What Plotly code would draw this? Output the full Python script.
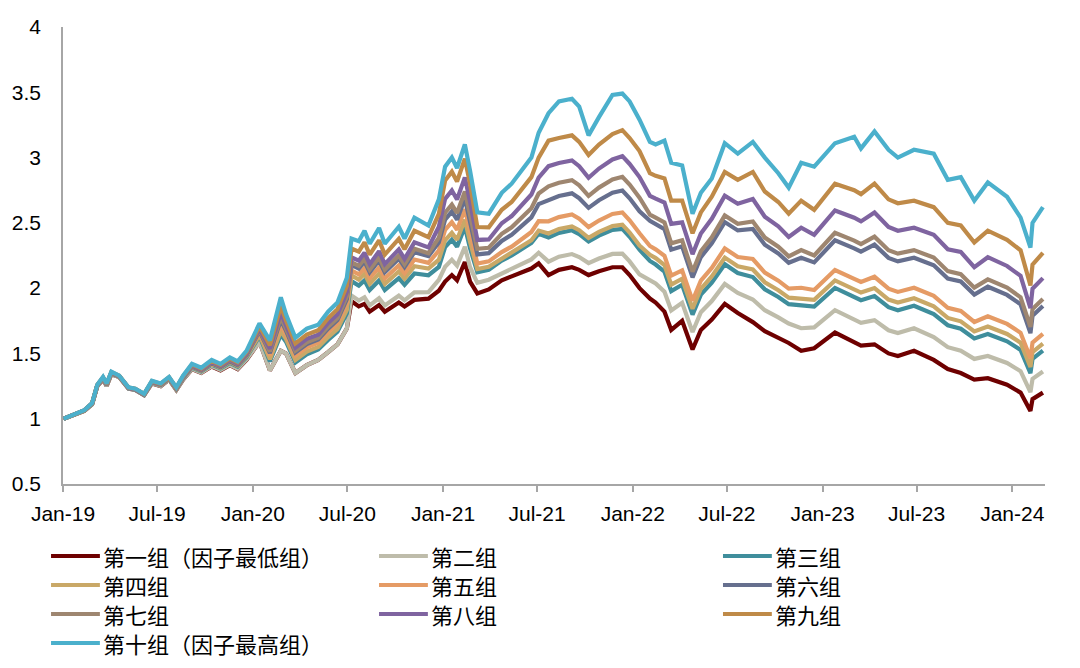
import plotly.graph_objects as go

dates = [
"2019-01-02","2019-01-21","2019-02-11","2019-02-26","2019-03-08","2019-03-19","2019-03-26","2019-04-04","2019-04-19","2019-05-07",
"2019-05-20","2019-06-06","2019-06-21","2019-07-08","2019-07-24","2019-08-07","2019-08-20","2019-09-06","2019-09-24","2019-10-14",
"2019-10-31","2019-11-18","2019-12-03","2019-12-20","2020-01-14","2020-02-03","2020-02-24","2020-03-05","2020-03-23","2020-04-14",
"2020-05-06","2020-05-25","2020-06-12","2020-06-30","2020-07-09","2020-07-23","2020-08-03","2020-08-13","2020-08-31","2020-09-11",
"2020-10-08","2020-10-19","2020-11-07","2020-12-04","2020-12-24","2021-01-05","2021-01-18","2021-01-28","2021-02-12","2021-02-22",
"2021-03-08","2021-03-30","2021-04-24","2021-05-13","2021-06-01","2021-06-20","2021-07-04","2021-07-23","2021-08-12","2021-09-06",
"2021-09-20","2021-10-08","2021-10-28","2021-11-23","2021-12-12","2021-12-26","2022-01-14","2022-02-03","2022-02-14","2022-03-03",
"2022-03-16","2022-04-06","2022-04-26","2022-05-12","2022-06-02","2022-06-27","2022-07-22","2022-08-20","2022-09-12","2022-10-08",
"2022-10-28","2022-11-21","2022-12-16","2023-01-25","2023-03-03","2023-03-16","2023-04-11","2023-05-08","2023-05-26","2023-06-26",
"2023-08-03","2023-08-30","2023-09-24","2023-10-20","2023-11-15","2023-12-22","2024-01-17","2024-02-05","2024-02-09","2024-02-29"]

g1 = [1.00, 1.03, 1.06, 1.11, 1.25, 1.30, 1.25, 1.34, 1.32, 1.23,
      1.22, 1.18, 1.27, 1.25, 1.30, 1.22, 1.30, 1.38, 1.35, 1.40,
      1.37, 1.41, 1.38, 1.45, 1.59, 1.37, 1.52, 1.50, 1.35, 1.41,
      1.45, 1.51, 1.57, 1.69, 1.90, 1.86, 1.88, 1.82, 1.87, 1.82,
      1.89, 1.86, 1.91, 1.92, 1.98, 2.05, 2.10, 2.06, 2.20, 2.05,
      1.96, 1.99, 2.06, 2.09, 2.12, 2.15, 2.19, 2.10, 2.14, 2.16,
      2.14, 2.10, 2.13, 2.16, 2.16, 2.10, 2.00, 1.92, 1.89, 1.82,
      1.68, 1.75, 1.53, 1.68, 1.76, 1.88, 1.81, 1.74, 1.67, 1.62,
      1.58, 1.52, 1.54, 1.66, 1.58, 1.56, 1.57, 1.50, 1.48, 1.52,
      1.45, 1.38, 1.35, 1.30, 1.31, 1.26, 1.20, 1.06, 1.15, 1.20]

g2 = [1.00, 1.03, 1.060, 1.110, 1.250, 1.301, 1.251, 1.341, 1.320, 1.230,
      1.220, 1.180, 1.271, 1.251, 1.301, 1.221, 1.302, 1.382, 1.352, 1.403,
      1.373, 1.413, 1.383, 1.454, 1.590, 1.370, 1.520, 1.500, 1.350, 1.410,
      1.450, 1.510, 1.570, 1.690, 1.943, 1.905, 1.930, 1.867, 1.923, 1.867,
      1.942, 1.907, 1.967, 1.970, 2.064, 2.164, 2.217, 2.172, 2.317, 2.160,
      2.041, 2.065, 2.114, 2.147, 2.183, 2.220, 2.271, 2.203, 2.241, 2.261,
      2.238, 2.192, 2.227, 2.262, 2.265, 2.205, 2.105, 2.064, 2.036, 1.973,
      1.829, 1.888, 1.664, 1.815, 1.901, 2.032, 1.963, 1.913, 1.831, 1.776,
      1.729, 1.693, 1.699, 1.831, 1.756, 1.734, 1.755, 1.677, 1.656, 1.693,
      1.626, 1.548, 1.520, 1.458, 1.480, 1.427, 1.364, 1.204, 1.305, 1.361]

g3 = [1.00, 1.03, 1.062, 1.113, 1.253, 1.306, 1.256, 1.346, 1.323, 1.233,
      1.223, 1.183, 1.276, 1.256, 1.306, 1.226, 1.309, 1.392, 1.362, 1.415,
      1.385, 1.428, 1.398, 1.471, 1.632, 1.439, 1.643, 1.590, 1.431, 1.494,
      1.531, 1.603, 1.666, 1.807, 2.054, 2.020, 2.059, 1.986, 2.059, 1.986,
      2.076, 2.026, 2.112, 2.099, 2.162, 2.314, 2.370, 2.318, 2.470, 2.305,
      2.121, 2.141, 2.211, 2.250, 2.296, 2.346, 2.417, 2.388, 2.423, 2.443,
      2.414, 2.358, 2.402, 2.446, 2.454, 2.394, 2.294, 2.208, 2.181, 2.126,
      1.977, 2.026, 1.797, 1.950, 2.042, 2.183, 2.116, 2.085, 1.991, 1.932,
      1.877, 1.865, 1.858, 2.002, 1.931, 1.908, 1.939, 1.854, 1.831, 1.865,
      1.801, 1.716, 1.689, 1.615, 1.649, 1.593, 1.527, 1.348, 1.459, 1.521]

g4 = [1.00, 1.03, 1.062, 1.114, 1.254, 1.308, 1.258, 1.348, 1.324, 1.234,
      1.224, 1.184, 1.278, 1.258, 1.308, 1.228, 1.312, 1.396, 1.366, 1.420,
      1.390, 1.434, 1.404, 1.478, 1.642, 1.455, 1.672, 1.611, 1.450, 1.514,
      1.550, 1.625, 1.688, 1.834, 2.097, 2.065, 2.110, 2.033, 2.112, 2.033,
      2.128, 2.073, 2.168, 2.150, 2.218, 2.367, 2.424, 2.370, 2.524, 2.356,
      2.146, 2.164, 2.227, 2.267, 2.315, 2.367, 2.441, 2.419, 2.453, 2.473,
      2.444, 2.385, 2.431, 2.476, 2.486, 2.426, 2.326, 2.256, 2.230, 2.177,
      2.027, 2.072, 1.842, 1.995, 2.089, 2.234, 2.167, 2.143, 2.045, 1.984,
      1.927, 1.923, 1.911, 2.059, 1.990, 1.966, 2.001, 1.913, 1.890, 1.923,
      1.860, 1.772, 1.746, 1.668, 1.706, 1.649, 1.582, 1.396, 1.511, 1.575]

g5 = [1.00, 1.03, 1.063, 1.116, 1.256, 1.311, 1.261, 1.351, 1.326, 1.236,
      1.226, 1.186, 1.281, 1.261, 1.311, 1.231, 1.317, 1.402, 1.372, 1.428,
      1.398, 1.443, 1.413, 1.489, 1.659, 1.483, 1.721, 1.647, 1.482, 1.547,
      1.582, 1.662, 1.727, 1.881, 2.135, 2.105, 2.154, 2.075, 2.159, 2.075,
      2.174, 2.115, 2.219, 2.194, 2.288, 2.446, 2.505, 2.447, 2.605, 2.432,
      2.189, 2.205, 2.276, 2.318, 2.372, 2.430, 2.514, 2.512, 2.544, 2.564,
      2.532, 2.468, 2.518, 2.568, 2.580, 2.520, 2.420, 2.323, 2.297, 2.248,
      2.096, 2.136, 1.904, 2.058, 2.155, 2.304, 2.238, 2.223, 2.119, 2.057,
      1.996, 2.003, 1.985, 2.139, 2.071, 2.047, 2.087, 1.996, 1.971, 2.003,
      1.941, 1.850, 1.825, 1.741, 1.785, 1.726, 1.658, 1.463, 1.583, 1.649]

g6 = [1.00, 1.03, 1.063, 1.115, 1.255, 1.310, 1.260, 1.350, 1.325, 1.235,
      1.225, 1.185, 1.280, 1.260, 1.310, 1.230, 1.315, 1.400, 1.370, 1.425,
      1.395, 1.440, 1.410, 1.485, 1.671, 1.503, 1.758, 1.674, 1.507, 1.572,
      1.607, 1.690, 1.756, 1.916, 2.178, 2.150, 2.205, 2.122, 2.212, 2.122,
      2.226, 2.162, 2.275, 2.245, 2.351, 2.525, 2.586, 2.524, 2.686, 2.509,
      2.258, 2.268, 2.362, 2.409, 2.473, 2.542, 2.644, 2.677, 2.706, 2.726,
      2.689, 2.615, 2.673, 2.731, 2.748, 2.688, 2.588, 2.515, 2.491, 2.452,
      2.294, 2.320, 2.082, 2.238, 2.343, 2.506, 2.442, 2.453, 2.333, 2.265,
      2.194, 2.233, 2.197, 2.367, 2.305, 2.279, 2.333, 2.232, 2.205, 2.233,
      2.175, 2.074, 2.051, 1.951, 2.011, 1.948, 1.876, 1.655, 1.789, 1.863]

g7 = [1.00, 1.03, 1.063, 1.116, 1.256, 1.312, 1.262, 1.352, 1.326, 1.236,
      1.226, 1.186, 1.282, 1.262, 1.312, 1.232, 1.318, 1.404, 1.374, 1.430,
      1.400, 1.446, 1.416, 1.492, 1.678, 1.515, 1.778, 1.689, 1.520, 1.586,
      1.620, 1.705, 1.772, 1.936, 2.198, 2.170, 2.227, 2.142, 2.236, 2.142,
      2.250, 2.182, 2.301, 2.267, 2.386, 2.578, 2.640, 2.576, 2.740, 2.560,
      2.301, 2.309, 2.416, 2.466, 2.536, 2.612, 2.725, 2.780, 2.807, 2.827,
      2.787, 2.707, 2.770, 2.833, 2.853, 2.793, 2.693, 2.563, 2.540, 2.503,
      2.343, 2.366, 2.126, 2.283, 2.390, 2.557, 2.493, 2.511, 2.387, 2.317,
      2.243, 2.291, 2.250, 2.424, 2.364, 2.337, 2.394, 2.291, 2.264, 2.291,
      2.234, 2.130, 2.107, 2.004, 2.067, 2.004, 1.930, 1.703, 1.840, 1.917]

g8 = [1.00, 1.03, 1.064, 1.117, 1.257, 1.314, 1.264, 1.354, 1.327, 1.237,
      1.227, 1.187, 1.284, 1.264, 1.314, 1.234, 1.321, 1.408, 1.378, 1.435,
      1.405, 1.452, 1.422, 1.499, 1.691, 1.536, 1.815, 1.716, 1.544, 1.612,
      1.644, 1.733, 1.800, 1.971, 2.236, 2.210, 2.272, 2.184, 2.283, 2.184,
      2.296, 2.224, 2.351, 2.312, 2.470, 2.684, 2.748, 2.679, 2.848, 2.662,
      2.369, 2.373, 2.497, 2.552, 2.630, 2.717, 2.846, 2.934, 2.958, 2.978,
      2.934, 2.845, 2.916, 2.986, 3.011, 2.951, 2.851, 2.707, 2.685, 2.656,
      2.492, 2.504, 2.260, 2.418, 2.531, 2.708, 2.646, 2.683, 2.547, 2.473,
      2.392, 2.463, 2.409, 2.595, 2.539, 2.511, 2.579, 2.468, 2.439, 2.463,
      2.409, 2.298, 2.277, 2.161, 2.237, 2.170, 2.094, 1.847, 1.995, 2.077]

g9 = [1.00, 1.03, 1.064, 1.119, 1.259, 1.317, 1.267, 1.357, 1.329, 1.239,
      1.229, 1.189, 1.287, 1.267, 1.317, 1.237, 1.326, 1.414, 1.384, 1.443,
      1.413, 1.461, 1.431, 1.510, 1.708, 1.563, 1.864, 1.752, 1.577, 1.645,
      1.677, 1.770, 1.839, 2.018, 2.303, 2.280, 2.350, 2.257, 2.366, 2.257,
      2.377, 2.297, 2.439, 2.390, 2.568, 2.824, 2.892, 2.817, 2.992, 2.798,
      2.468, 2.466, 2.600, 2.660, 2.750, 2.850, 3.000, 3.130, 3.150, 3.170,
      3.120, 3.020, 3.100, 3.180, 3.210, 3.150, 3.050, 2.880, 2.860, 2.840,
      2.670, 2.670, 2.420, 2.580, 2.700, 2.890, 2.830, 2.890, 2.740, 2.660,
      2.570, 2.670, 2.600, 2.800, 2.750, 2.720, 2.800, 2.680, 2.650, 2.670,
      2.620, 2.500, 2.480, 2.350, 2.440, 2.370, 2.290, 2.020, 2.180, 2.270]

g10 = [1.00, 1.03, 1.065, 1.12, 1.26, 1.32, 1.27, 1.36, 1.33, 1.24,
       1.23, 1.19, 1.29, 1.27, 1.32, 1.24, 1.33, 1.42, 1.39, 1.45,
       1.42, 1.47, 1.44, 1.52, 1.73, 1.60, 1.93, 1.80, 1.62, 1.69,
       1.72, 1.82, 1.89, 2.08, 2.38, 2.36, 2.44, 2.34, 2.46, 2.34,
       2.47, 2.38, 2.54, 2.48, 2.68, 2.93, 3.00, 2.92, 3.10, 2.90,
       2.58, 2.57, 2.73, 2.80, 2.90, 3.00, 3.19, 3.34, 3.43, 3.45,
       3.39, 3.17, 3.31, 3.48, 3.49, 3.43, 3.29, 3.12, 3.10, 3.13,
       2.96, 2.94, 2.57, 2.73, 2.84, 3.11, 3.03, 3.12, 3.00, 2.88,
       2.77, 2.96, 2.93, 3.11, 3.16, 3.07, 3.20, 3.06, 3.00, 3.06,
       3.03, 2.83, 2.85, 2.67, 2.81, 2.70, 2.54, 2.31, 2.50, 2.62]

names = ["第一组（因子最低组）", "第二组", "第三组", "第四组", "第五组",
         "第六组", "第七组", "第八组", "第九组", "第十组（因子最高组）"]
series = [g1, g2, g3, g4, g5, g6, g7, g8, g9, g10]
colors = ["#6E0000", "#BEBCAA", "#3F8E9C", "#C9A867", "#E59B65",
          "#666F8E", "#9E8670", "#7F64A0", "#BF8A48", "#4BB0CC"]

# figure geometry (pixels)
W, H = 1080, 668
ML, MR, MT, MB = 60, 35, 27, 184
PW, PH = W - ML - MR, H - MT - MB

def px_x(px):
    return (px - ML) / PW

def px_y(py):
    return (H - MB - py) / PH

fig = go.Figure()
for name, vals, col in zip(names, series, colors):
    fig.add_trace(go.Scatter(x=dates, y=vals, mode="lines", name=name,
                             line=dict(color=col, width=4.2), showlegend=False))

# legend built from shapes + text (3 columns, row-major)
col_x = [48, 377, 722]
row_y = [556, 585, 614, 643]
shapes, annots = [], []
for i, (name, col) in enumerate(zip(names, colors)):
    r, c = divmod(i, 3)
    x0, y0 = col_x[c], row_y[r]
    shapes.append(dict(type="line", xref="paper", yref="paper",
                       x0=px_x(x0), x1=px_x(x0 + 49), y0=px_y(y0), y1=px_y(y0),
                       line=dict(color=col, width=4.2)))
    annots.append(dict(xref="paper", yref="paper", x=px_x(x0 + 50), y=px_y(y0),
                       xanchor="left", yanchor="middle", showarrow=False, text=name,
                       font=dict(family="Noto Sans CJK SC", size=22, color="#000000")))

axis_col = "#A6A6A6"
fig.update_layout(
    width=W, height=H,
    margin=dict(l=ML, r=MR, t=MT, b=MB),
    paper_bgcolor="white", plot_bgcolor="white",
    font=dict(family="Liberation Sans, Arial, Noto Sans CJK SC", size=20, color="#000000"),
    showlegend=False,
    shapes=shapes, annotations=annots,
)
fig.update_xaxes(
    type="date", range=["2019-01-01", "2024-03-04"],
    tick0="2019-01-01", dtick="M6", tickformat="%b-%y",
    showline=True, linecolor=axis_col, linewidth=1.5,
    ticks="outside", ticklen=6, tickcolor=axis_col, tickwidth=1.5,
    ticklabelstandoff=4,
    showgrid=False, zeroline=False,
    tickfont=dict(family="Liberation Sans, Arial", size=21, color="#000000"),
)
fig.update_yaxes(
    range=[0.5, 4.0], tick0=0.5, dtick=0.5,
    showline=True, linecolor=axis_col, linewidth=1.5,
    ticks="", showgrid=False, zeroline=False,
    ticklabelstandoff=16,
    tickfont=dict(family="Liberation Sans, Arial", size=21, color="#000000"),
)

fig.write_html("out.html")
